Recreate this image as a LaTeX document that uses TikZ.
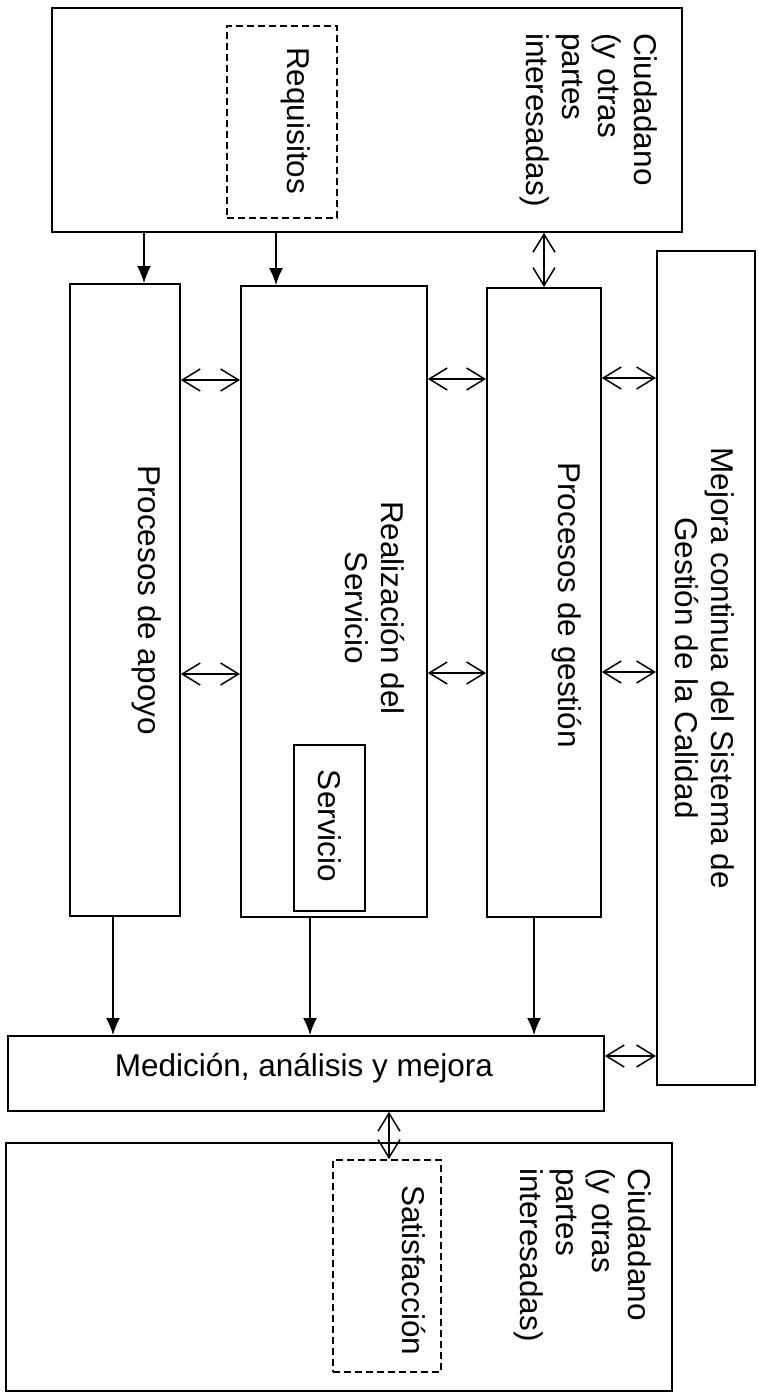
\documentclass[tikz,border=0pt]{standalone}
\usepackage{fontspec}
\setmainfont{Liberation Sans}
\usetikzlibrary{arrows.meta}
\tikzset{%
  box/.style={draw,line width=1.8pt,inner sep=0pt,anchor=north west},
  dbox/.style={box,line width=1.6pt,dash pattern=on 7pt off 4pt},
  vtext/.style={rotate=-90,inner sep=0pt,font=\fontsize{31.5}{36}\selectfont},
  htext/.style={inner sep=0pt,font=\fontsize{31.5}{36}\selectfont},
  arr/.style={-{Latex[length=17pt,width=14pt]},line width=1.5pt},
  darr/.style={{Straight Barb[length=18pt,width=22pt]}-{Straight Barb[length=18pt,width=22pt]},
    line width=1.5pt}%
}

\begin{document}
\begin{tikzpicture}[x=1pt,y=-1pt] % pixel units, y goes down

\useasboundingbox[fill=white] (0,0) rectangle (758,1398);

%% citizen boxes

\node[box,minimum width=630pt,minimum height=224pt] (cit1) at (51,7) {};
\node[dbox,minimum width=110pt,minimum height=192pt] (req) at (226,25) {};
\node[box,minimum width=666pt,minimum height=248pt] (cit2) at (5,1142) {};
\node[dbox,minimum width=108pt,minimum height=212pt] (sat) at (332,1159) {};

%% process columns

\node[box,minimum width=110pt,minimum height=632pt] (apoyo) at (69,283) {};
\node[box,minimum width=186pt,minimum height=631pt] (real) at (240,285) {};
\node[box,minimum width=71pt,minimum height=166pt] (serv) at (293,744) {};
\node[box,minimum width=114pt,minimum height=629pt] (gest) at (486,287) {};
\node[box,minimum width=98pt,minimum height=834pt] (mejora) at (656,250) {};
\node[box,minimum width=596pt,minimum height=75pt] (medic) at (7,1035) {};

%% texts

\node[vtext,anchor=north west,align=left] (tcit1) at (658,33)
    {Ciudadano\\(y otras\\partes\\interesadas)};
\node[vtext,anchor=base west] (treq) at (287,47) {Requisitos};
\node[vtext,anchor=north west,align=left] (tcit2) at (652,1168)
    {Ciudadano\\(y otras\\partes\\interesadas)};
\node[vtext,anchor=base west] (tsat) at (402,1185) {Satisfacción};
\node[vtext,anchor=base] (tapoyo) at (138,600) {Procesos de apoyo};
\node[vtext,anchor=north,align=center] (treal) at (405,608)
    {Realización del\\Servicio};
\node[vtext,anchor=base] (tserv) at (318,826) {Servicio};
\node[vtext,anchor=base] (tgest) at (558,605) {Procesos de gestión};
\node[vtext,anchor=north,align=center] (tmejora) at (735,668)
    {Mejora continua del Sistema de\\Gestión de la Calidad};
\node[htext] (tmedic) at (304,1068) {Medición, análisis y mejora};

%% connectors

\draw[arr] (cit1.south -| 144,0) -- (apoyo.north -| 144,0);
\draw[arr] (cit1.south -| 276,0) -- (real.north -| 276,0);
\draw[darr] (cit1.south -| 544,0) -- (gest.north -| 544,0);

\draw[darr] (apoyo.east |- 0,380) -- (real.west |- 0,380);
\draw[darr] (real.east |- 0,379) -- (gest.west |- 0,379);
\draw[darr] (gest.east |- 0,378) -- (mejora.west |- 0,378);
\draw[darr] (apoyo.east |- 0,674) -- (real.west |- 0,674);
\draw[darr] (real.east |- 0,673) -- (gest.west |- 0,673);
\draw[darr] (gest.east |- 0,672) -- (mejora.west |- 0,672);

\draw[arr] (apoyo.south -| 113,0) -- (medic.north -| 113,0);
\draw[arr] (real.south -| 310,0) -- (medic.north -| 310,0);
\draw[arr] (gest.south -| 534,0) -- (medic.north -| 534,0);

\draw[darr] (medic.east |- 0,1056) -- (mejora.west |- 0,1056);
\draw[darr] (medic.south -| 389,0) -- (sat.north -| 389,0);

\end{tikzpicture}
\end{document}
